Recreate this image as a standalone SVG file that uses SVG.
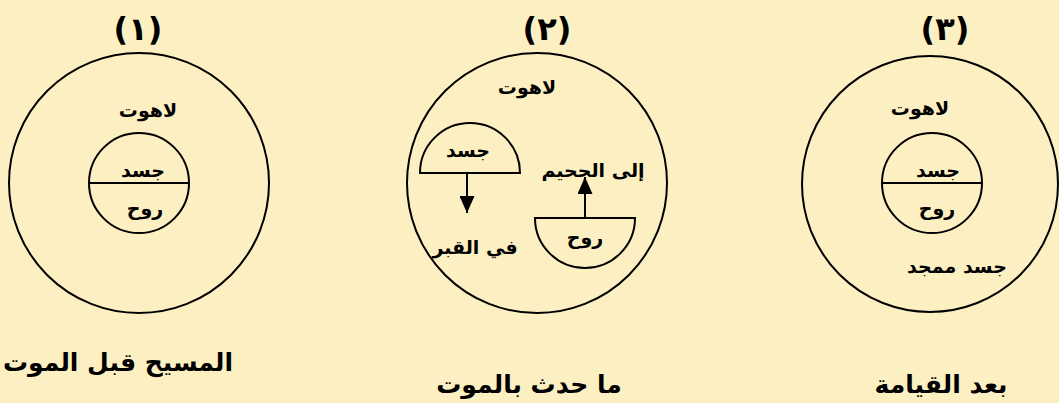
<svg xmlns="http://www.w3.org/2000/svg" width="1059" height="403" viewBox="0 0 1059 403">
<style>
.ln{fill:none;stroke:#000;stroke-width:2}
.hc{fill:none;stroke:#000;stroke-width:2}
text{font-family:"DejaVu Sans","Noto Sans",sans-serif;font-weight:bold;fill:#000;text-anchor:middle;direction:rtl}
.num{font-size:32px}
.lbl{font-size:19px}
.cap{font-size:25px}
</style>
<defs>
<marker id="ah" viewBox="0 0 17 15" refX="17" refY="7.5" markerWidth="17" markerHeight="15" markerUnits="userSpaceOnUse" orient="auto">
<path d="M0,0 L17,7.5 L0,15 Z" fill="#000"/>
</marker>
</defs>
<rect width="1059" height="403" fill="#FCF0C2"/>
<g id="node1">
<text class="num" x="138" y="40">(١)</text>
<circle class="ln" cx="139" cy="183" r="130"/>
<text class="lbl" x="148" y="117">لاهوت</text>
<circle class="ln" cx="139" cy="183" r="50"/>
<line class="ln" x1="89" y1="183" x2="189" y2="183"/>
<text class="lbl" x="143" y="177">جسد</text>
<text class="lbl" x="145" y="215">روح</text>
<text class="cap" x="118" y="371">المسيح قبل الموت</text>
</g>
<g id="node2">
<text class="num" x="547" y="40">(٢)</text>
<circle class="ln" cx="537" cy="183" r="130"/>
<text class="lbl" x="527" y="94">لاهوت</text>
<path class="hc" d="M420,173 A50,50 0 0 1 520,173 Z"/>
<text class="lbl" x="468" y="157">جسد</text>
<text class="lbl" x="475" y="254">في القبر</text>
<path class="hc" d="M535,218 A50,50 0 0 0 635,218 Z"/>
<text class="lbl" x="585" y="244">روح</text>
<text class="lbl" x="593" y="177">إلى الجحيم</text>
<text class="cap" x="529" y="393">ما حدث بالموت</text>
</g>
<g id="node3">
<text class="num" x="945" y="40">(٣)</text>
<circle class="ln" cx="930" cy="184" r="128"/>
<text class="lbl" x="920" y="115">لاهوت</text>
<circle class="ln" cx="932" cy="183" r="50"/>
<line class="ln" x1="882" y1="183" x2="982" y2="183"/>
<text class="lbl" x="938" y="177">جسد</text>
<text class="lbl" x="937" y="215">روح</text>
<text class="lbl" x="957" y="273">جسد ممجد</text>
<text class="cap" x="941" y="393">بعد القيامة</text>
</g>
<g id="connectors">
<line x1="467" y1="173" x2="467" y2="213" stroke="#000" stroke-width="2" marker-end="url(#ah)"/>
<line x1="585" y1="218" x2="585" y2="177" stroke="#000" stroke-width="2" marker-end="url(#ah)"/>
</g>
</svg>
